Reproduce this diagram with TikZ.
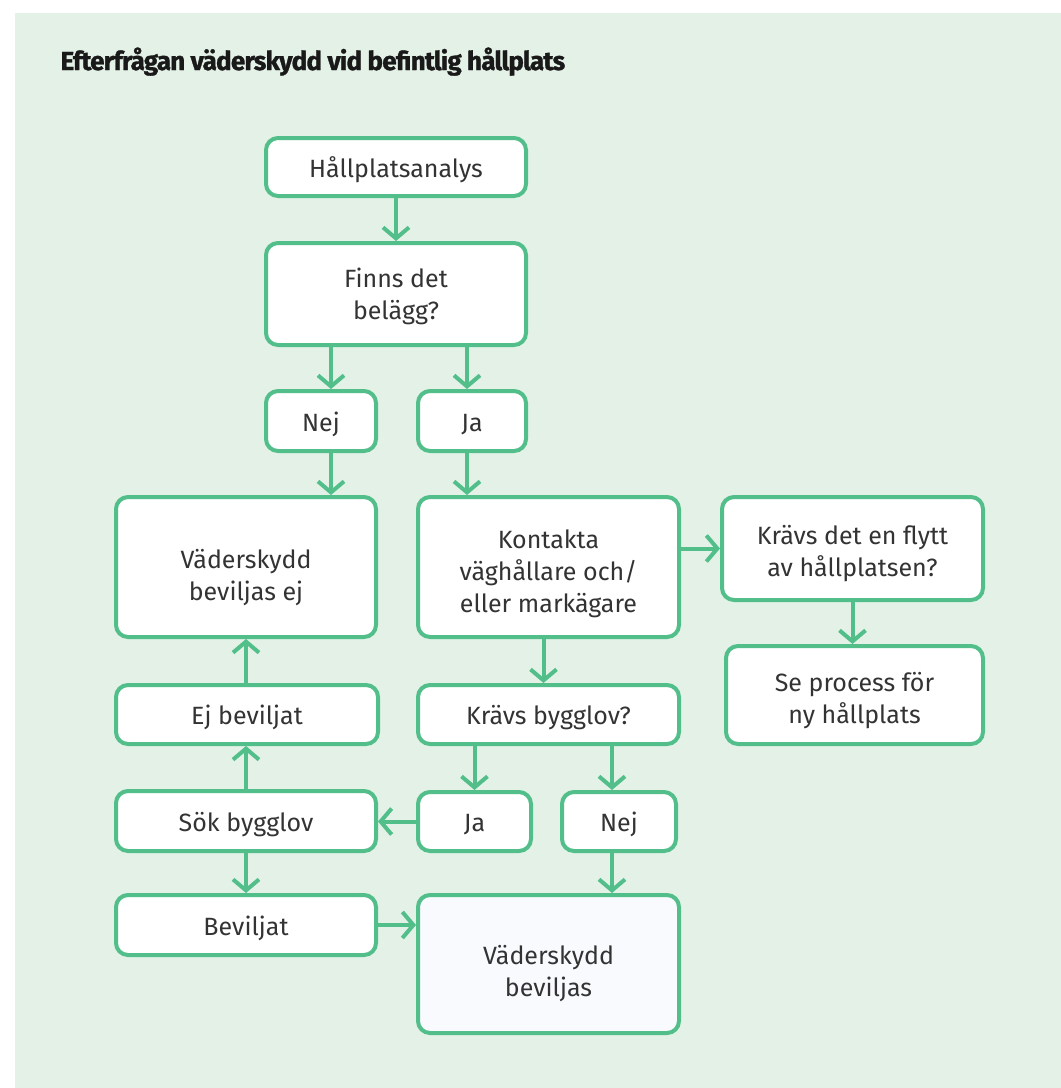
\documentclass[tikz,border=0pt]{standalone}
\usepackage{fontspec}
\setmainfont{Fira Sans}
\newfontfamily\titlefont[LetterSpace=-3, BoldFeatures={FakeBold=1.2}]{Fira Sans}
\usetikzlibrary{arrows.meta}

\definecolor{bggreen}{HTML}{E3F1E7}
\definecolor{linegreen}{HTML}{52BF8A}
\definecolor{txtgray}{HTML}{333333}
\definecolor{paleblue}{HTML}{F8FAFD}

\newcommand{\topgap}[1]{\rule{0pt}{#1pt}}

\tikzset{
    box/.style={draw=linegreen, line width=4pt, fill=white, rounded corners=12pt,
        text=txtgray, align=center, inner sep=0pt,
        font=\fontsize{25}{32}\selectfont},
    onebox/.style={box, text height=27pt, text depth=7pt},
    arr/.style={draw=linegreen, line width=4pt,
        -{Straight Barb[length=11pt, width=26pt]}},
}

\begin{document}
\begin{tikzpicture}[x=1pt, y=-1pt]
    \useasboundingbox (0, 0) rectangle (1061, 1088);
    \fill[white] (0, 0) rectangle (1061, 1088);
    \fill[bggreen] (15, 13) rectangle (1061, 1088);

    \node[anchor=base west, text=black!90,
        font=\titlefont\bfseries\fontsize{26}{30}\selectfont] (title) at(57, 70)
        {Efterfrågan väderskydd vid befintlig hållplats};

    \node[onebox, minimum width=260, minimum height=58] (hpa) at(396, 167) {Hållplatsanalys};
    \node[box, minimum width=260, minimum height=102] (belagg) at(396, 294) {\topgap{24}Finns det\\belägg?};
    \node[onebox, minimum width=110, minimum height=60] (nej1) at(321, 421) {Nej};
    \node[onebox, minimum width=108, minimum height=60] (ja1) at(472, 421) {Ja};
    \node[box, minimum width=260, minimum height=140] (ejbev) at(246, 567) {\topgap{40}Väderskydd\\beviljas ej};
    \node[box, minimum width=261, minimum height=140] (kontakta) at(548.5, 567) {\topgap{32}Kontakta\\väghållare och/\\eller markägare};
    \node[box, minimum width=261, minimum height=103] (flytt) at(852.5, 548.5) {\topgap{29}Krävs det en flytt\\av hållplatsen?};
    \node[box, minimum width=257, minimum height=98] (process) at(854.5, 695) {\topgap{30}Se process för\\ny hållplats};
    \node[onebox, minimum width=262, minimum height=59] (ejbeviljat) at(247, 714.5) {Ej beviljat};
    \node[onebox, minimum width=261, minimum height=59] (bygglov) at(548.5, 714.5) {Krävs bygglov?};
    \node[onebox, minimum width=260, minimum height=60] (sok) at(246, 821) {Sök bygglov};
    \node[onebox, minimum width=113, minimum height=59] (ja2) at(474.5, 821.5) {Ja};
    \node[onebox, minimum width=114, minimum height=59] (nej2) at(619, 821.5) {Nej};
    \node[onebox, minimum width=260, minimum height=60] (beviljat) at(246, 925) {Beviljat};
    \node[box, fill=paleblue, minimum width=261, minimum height=138] (bev) at(548.5, 964) {\topgap{38}Väderskydd\\beviljas};

    \draw[arr] (hpa.south) -- (belagg.north);
    \draw[arr] ([xshift=10]nej1.north |- belagg.south) -- ([xshift=10]nej1.north);
    \draw[arr] ([xshift=-5]ja1.north |- belagg.south) -- ([xshift=-5]ja1.north);
    \draw[arr] ([xshift=10]nej1.south) -- ([xshift=10]nej1.south |- ejbev.north);
    \draw[arr] ([xshift=-5]ja1.south) -- ([xshift=-5]ja1.south |- kontakta.north);
    \draw[arr] (flytt.west -| kontakta.east) -- (flytt.west);
    \draw[arr] (flytt.south) -- (flytt.south |- process.north);
    \draw[arr] ([xshift=-5]kontakta.south) -- ([xshift=-5]bygglov.north);
    \draw[arr] (ja2.north |- bygglov.south) -- (ja2.north);
    \draw[arr] ([xshift=-7]nej2.north |- bygglov.south) -- ([xshift=-7]nej2.north);
    \draw[arr] (ja2.west) -- (ja2.west -| sok.east);
    \draw[arr] (sok.north) -- (sok.north |- ejbeviljat.south);
    \draw[arr] (sok.north |- ejbeviljat.north) -- (sok.north |- ejbev.south);
    \draw[arr] (sok.south) -- (beviljat.north);
    \draw[arr] (beviljat.east) -- (beviljat.east -| bev.west);
    \draw[arr] ([xshift=-7]nej2.south) -- ([xshift=-7]nej2.south |- bev.north);
\end{tikzpicture}
\end{document}
